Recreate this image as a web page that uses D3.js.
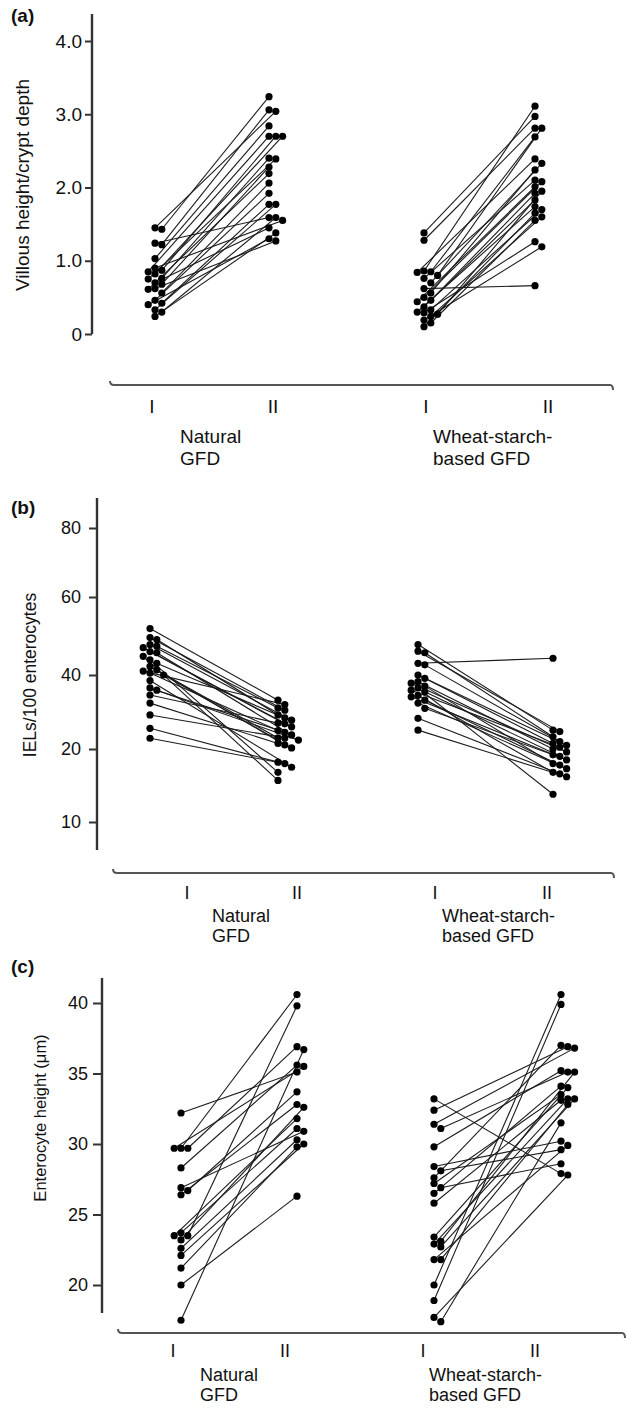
<!DOCTYPE html>
<html>
<head>
<meta charset="utf-8">
<script src="https://cdn.jsdelivr.net/npm/d3@7"></script>
<style>
  body { margin: 0; background: #fff; }
  svg { display: block; background: #fff; }
  text { font-family: "Liberation Sans", Arial, Helvetica, sans-serif; fill: #111; }
</style>
</head>
<body>
<svg id="chart" width="627" height="1427"></svg>
<script>
// Diet groups and biopsy time points
const groups = ["Natural GFD", "Wheat-starch-based GFD"];
const groupLines = [["Natural", "GFD"], ["Wheat-starch-", "based GFD"]];
const periods = ["I", "II"];

// (a) Villous height / crypt depth ratio
const vhcdTicks = [0, 1, 2, 3, 4];
const vhcdTickLabels = ["0", "1.0", "2.0", "3.0", "4.0"];
const vhcdNaturalI  = [1.43, 1.45, 1.22, 1.24, 1.03, 0.85, 0.87, 0.82, 0.75, 0.76, 0.68, 0.61, 0.62, 0.56, 0.46, 0.42, 0.33, 0.30, 0.24, 0.90, 0.70, 0.40];
const vhcdNaturalII = [3.24, 3.04, 3.06, 1.59, 2.84, 2.70, 2.70, 2.70, 2.39, 2.40, 2.28, 2.19, 1.27, 2.06, 1.92, 1.77, 1.77, 1.59, 1.38, 1.55, 1.45, 1.30];
const vhcdWheatI    = [1.38, 1.28, 0.86, 0.80, 0.85, 0.84, 0.70, 0.62, 0.56, 0.76, 0.50, 0.44, 0.46, 0.37, 0.30, 0.24, 0.33, 0.29, 0.19, 0.15, 0.10, 0.27];
const vhcdWheatII   = [2.97, 2.81, 3.11, 2.81, 2.69, 2.39, 2.33, 0.66, 2.24, 2.10, 2.08, 2.01, 1.92, 1.83, 1.74, 1.60, 1.70, 1.26, 1.19, 1.55, 1.65, 1.95];

// (b) Intraepithelial lymphocytes per 100 enterocytes
const ielTicks = [10, 20, 40, 60, 80];
const ielTickLabels = ["10", "20", "40", "60", "80"];
const ielNaturalI  = [51.9, 49.6, 49.1, 47.8, 47.4, 47.0, 45.7, 44.8, 43.9, 43.0, 42.2, 41.3, 40.5, 40.0, 36.5, 35.9, 34.6, 32.4, 29.2, 25.6, 22.9, 38.5, 41.0, 46.0];
const ielNaturalII = [33.2, 30.5, 29.2, 27.8, 31.1, 26.0, 23.8, 15.7, 16.8, 28.4, 23.0, 21.1, 25.0, 20.3, 22.4, 24.5, 27.0, 21.5, 23.0, 18.2, 18.0, 17.5, 32.0, 26.8];
const ielWheatI    = [47.8, 46.1, 45.7, 43.0, 42.6, 39.1, 38.2, 37.8, 36.5, 35.5, 34.1, 33.2, 32.4, 28.3, 25.1, 35.9, 40.0, 37.0, 34.5, 31.0];
const ielWheatII   = [25.1, 24.7, 23.3, 44.3, 22.0, 21.5, 20.0, 19.6, 13.8, 19.0, 18.5, 17.8, 17.3, 16.6, 16.2, 20.5, 21.0, 18.0, 16.8, 19.2];

// (c) Enterocyte height (µm)
const entTicks = [20, 25, 30, 35, 40];
const entTickLabels = ["20", "25", "30", "35", "40"];
const entNaturalI  = [32.2, 29.7, 29.7, 29.7, 28.3, 26.7, 26.9, 26.4, 23.2, 23.5, 23.5, 23.7, 22.6, 22.1, 21.2, 20.0, 17.5];
const entNaturalII = [35.1, 40.6, 36.9, 35.5, 35.6, 33.7, 30.9, 32.8, 32.6, 39.8, 31.8, 31.1, 30.3, 30.0, 29.8, 26.3, 36.7];
const entWheatI    = [33.2, 32.4, 31.4, 31.1, 29.8, 28.1, 28.4, 27.6, 27.2, 26.9, 26.5, 25.8, 23.1, 22.9, 23.4, 22.7, 21.8, 21.8, 20.0, 18.9, 17.7, 17.4];
const entWheatII   = [27.9, 36.9, 36.8, 35.1, 35.2, 29.6, 30.2, 37.0, 33.5, 28.6, 34.1, 33.1, 35.1, 33.2, 34.0, 33.2, 29.9, 32.8, 40.6, 39.9, 27.8, 31.5];

// Panel layout
const panels = [
  {
    letter: "(a)", letterY: 22, title: "Villous height/crypt depth", titleX: 29, titleY: 185, titleSize: 19,
    y: d3.scaleLinear().domain([0, 4]).range([334, 41]),
    ticks: vhcdTicks, tickLabels: vhcdTickLabels, tickSize: 7, tickPad: 3, tickFont: 19,
    axisX: 92, axisTop: 14, axisBottom: 334,
    cols: [[155, 269], [424, 535]], periodX: [[152, 273], [426, 548]], periodY: 413,
    bracketY: 385, bracketX: [110, 613],
    groupX: [180, 433], groupY: [443, 465], groupFont: 19,
    data: [[vhcdNaturalI, vhcdNaturalII], [vhcdWheatI, vhcdWheatII]]
  },
  {
    letter: "(b)", letterY: 514, title: "IELs/100 enterocytes", titleX: 36, titleY: 675, titleSize: 17.5,
    y: d3.scaleLinear().domain(ielTicks).range([822, 749, 675, 597, 528]),
    ticks: ielTicks, tickLabels: ielTickLabels, tickSize: 8, tickPad: 8, tickFont: 18,
    axisX: 97, axisTop: 498, axisBottom: 850,
    cols: [[150, 278], [418, 553]], periodX: [[187, 297], [435, 547]], periodY: 899,
    bracketY: 873, bracketX: [113, 614],
    groupX: [212, 442], groupY: [922, 942], groupFont: 18,
    data: [[ielNaturalI, ielNaturalII], [ielWheatI, ielWheatII]]
  },
  {
    letter: "(c)", letterY: 973, title: "Enterocyte height (\u03bcm)", titleX: 46, titleY: 1118, titleSize: 16.5,
    y: d3.scaleLinear().domain([20, 40]).range([1285, 1003]),
    ticks: entTicks, tickLabels: entTickLabels, tickSize: 9, tickPad: 5, tickFont: 18,
    axisX: 102, axisTop: 978, axisBottom: 1313,
    cols: [[181, 297], [434, 561]], periodX: [[173, 285], [423, 535]], periodY: 1357,
    bracketY: 1333, bracketX: [118, 625],
    groupX: [200, 429], groupY: [1381, 1401], groupFont: 18,
    data: [[entNaturalI, entNaturalII], [entWheatI, entWheatII]]
  }
];

const DOT_R = 3.6;
const STEP = 6.8;
const MIN_DIST = 5.4;
// first biopsy columns spread both ways, second biopsy columns spread to the right
const SLOTS_I = [0, 1, -1, 2, -2, 3];
const SLOTS_II = [0, 1, 2, 3, -1, 4];

// Spread tied values sideways so overlapping dots stay visible
function dodge(values, y, cx, slots) {
  const order = d3.range(values.length).sort((a, b) => values[b] - values[a]);
  const placed = [];
  const xs = new Array(values.length).fill(cx);
  for (const i of order) {
    const py = y(values[i]);
    for (const s of slots) {
      const px = cx + s * STEP;
      if (placed.every(p => Math.hypot(p[0] - px, p[1] - py) >= MIN_DIST)) {
        xs[i] = px; placed.push([px, py]); break;
      }
    }
  }
  return xs;
}

const svg = d3.select("#chart");

panels.forEach(p => {
  const g = svg.append("g");

  // panel letter
  g.append("text").attr("x", 11).attr("y", p.letterY)
    .attr("font-size", 19).attr("font-weight", "bold").text(p.letter);

  // y axis title
  g.append("text")
    .attr("transform", `translate(${p.titleX},${p.titleY}) rotate(-90)`)
    .attr("text-anchor", "middle").attr("font-size", p.titleSize).text(p.title);

  // y axis
  const axis = d3.axisLeft(p.y).tickValues(p.ticks)
    .tickFormat((d, i) => p.tickLabels[i])
    .tickSize(p.tickSize).tickPadding(p.tickPad);
  const ag = g.append("g").attr("transform", `translate(${p.axisX},0)`).call(axis);
  ag.select(".domain").remove();
  ag.selectAll(".tick line").attr("stroke", "#333").attr("stroke-width", 2);
  ag.selectAll(".tick text").attr("font-size", p.tickFont).attr("fill", "#111")
    .style("font-family", '"Liberation Sans", Arial, Helvetica, sans-serif');
  g.append("line").attr("x1", p.axisX).attr("x2", p.axisX)
    .attr("y1", p.axisTop).attr("y2", p.axisBottom)
    .attr("stroke", "#333").attr("stroke-width", 2.4);

  // bottom bracket
  const [bx0, bx1] = p.bracketX, by = p.bracketY;
  g.append("path")
    .attr("d", `M${bx0},${by - 4} Q${bx0},${by} ${bx0 + 4},${by} L${bx1 - 3},${by} Q${bx1},${by} ${bx1},${by + 5}`)
    .attr("fill", "none").attr("stroke", "#555").attr("stroke-width", 2);

  // time point and group labels
  groups.forEach((grp, gi) => {
    periods.forEach((per, pi) => {
      g.append("text").attr("x", p.periodX[gi][pi]).attr("y", p.periodY)
        .attr("text-anchor", "middle").attr("font-size", p.groupFont).text(per);
    });
    groupLines[gi].forEach((ln, li) => {
      g.append("text").attr("x", p.groupX[gi]).attr("y", p.groupY[li])
        .attr("font-size", p.groupFont).text(ln);
    });
  });

  // paired observations
  p.data.forEach((pair, gi) => {
    const [vI, vII] = pair;
    const xI = dodge(vI, p.y, p.cols[gi][0], SLOTS_I);
    const xII = dodge(vII, p.y, p.cols[gi][1], SLOTS_II);
    const rows = vI.map((v, i) => ({ x1: xI[i], y1: p.y(v), x2: xII[i], y2: p.y(vII[i]) }));
    g.append("g").selectAll("line").data(rows).join("line")
      .attr("x1", d => d.x1).attr("y1", d => d.y1)
      .attr("x2", d => d.x2).attr("y2", d => d.y2)
      .attr("stroke", "#1c1c1c").attr("stroke-width", 1.1);
    const dots = rows.flatMap(d => [{ x: d.x1, y: d.y1 }, { x: d.x2, y: d.y2 }]);
    g.append("g").selectAll("circle").data(dots).join("circle")
      .attr("cx", d => d.x).attr("cy", d => d.y).attr("r", DOT_R).attr("fill", "#000");
  });
});
</script>
</body>
</html>
